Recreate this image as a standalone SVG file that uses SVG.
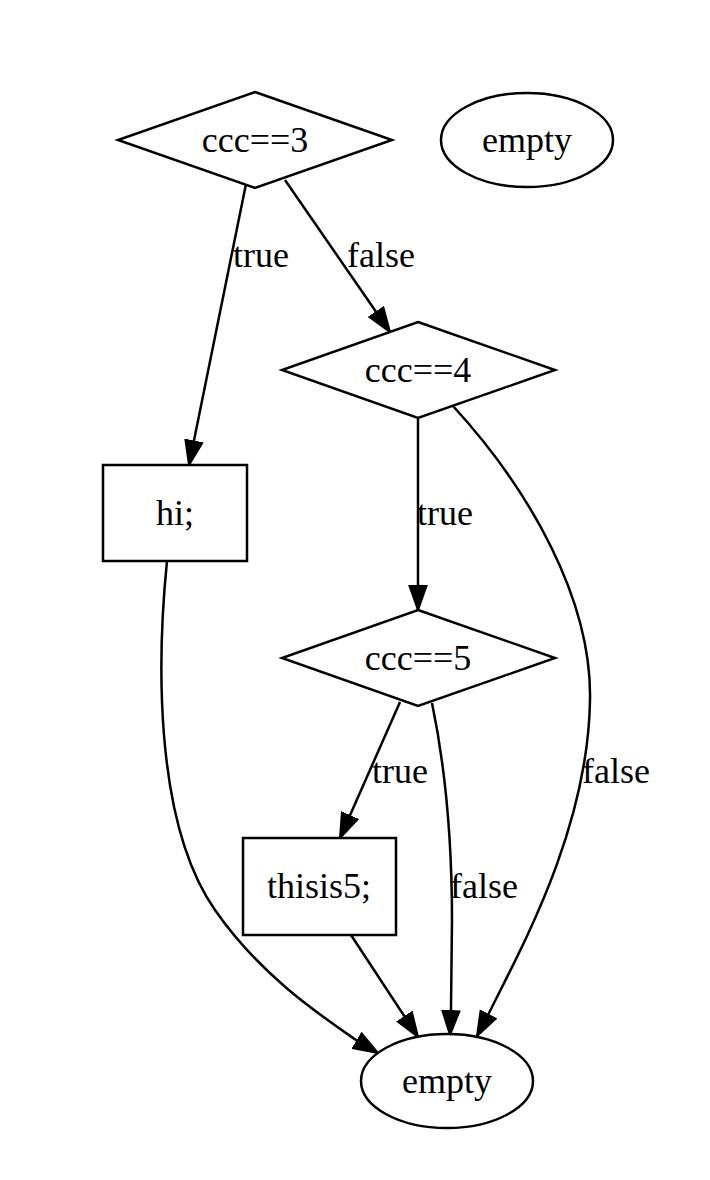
<svg xmlns="http://www.w3.org/2000/svg" width="710" height="1180" viewBox="0 0 710 1180">
<style>
.n{fill:#fff;stroke:#000;stroke-width:2.5}
.e{fill:none;stroke:#000;stroke-width:2.5;marker-end:url(#ah)}
text{font-family:"Liberation Serif","Times New Roman",serif;font-size:36px;fill:#000}
.c{text-anchor:middle}
</style>
<defs>
<marker id="ah" viewBox="0 0 25 20" refX="25" refY="10" markerWidth="25" markerHeight="20" markerUnits="userSpaceOnUse" orient="auto">
<path d="M1,1.5 L25,10 L1,18.5 z" fill="#000" stroke="#000" stroke-width="2"/>
</marker>
</defs>
<rect width="710" height="1180" fill="#fff"/>
<g id="edges">
<path class="e" d="M246,184 L189,465"/>
<path class="e" d="M285,180 L390,332"/>
<path class="e" d="M418,417 L418,610"/>
<path class="e" d="M453,406 C530,490 592,600 590,700 C588,830 520,950 489,1013 L477,1036"/>
<path class="e" d="M400,702 L340,838"/>
<path class="e" d="M432,703 C448,780 452,850 452,920 L451,1008 L450,1035"/>
<path class="e" d="M351,935 L418,1037"/>
<path class="e" d="M167,561 C158,650 152,820 215,910 C260,975 320,1015 356,1040 L378,1053"/>
<text x="233" y="267">true</text>
<text x="347" y="267">false</text>
<text x="417" y="525">true</text>
<text x="372" y="783">true</text>
<text x="582" y="783">false</text>
<text x="450" y="898">false</text>
</g>
<g id="ccc3"><polygon class="n" points="255,92 392,140 255,188 118,140"/><text class="c" x="255" y="152">ccc==3</text></g>
<g id="empty_top"><ellipse class="n" cx="527" cy="140" rx="86" ry="47"/><text class="c" x="527" y="152">empty</text></g>
<g id="ccc4"><polygon class="n" points="418,322 555,370 418,418 282,370"/><text class="c" x="418" y="382">ccc==4</text></g>
<g id="hi"><rect class="n" x="103" y="465" width="144" height="96"/><text class="c" x="175" y="525">hi;</text></g>
<g id="ccc5"><polygon class="n" points="418,610 555,658 418,706 282,658"/><text class="c" x="418" y="670">ccc==5</text></g>
<g id="thisis5"><rect class="n" x="243" y="838" width="153" height="97"/><text class="c" x="319" y="898">thisis5;</text></g>
<g id="empty_bottom"><ellipse class="n" cx="447" cy="1081" rx="86" ry="47"/><text class="c" x="447" y="1093">empty</text></g>
</svg>
